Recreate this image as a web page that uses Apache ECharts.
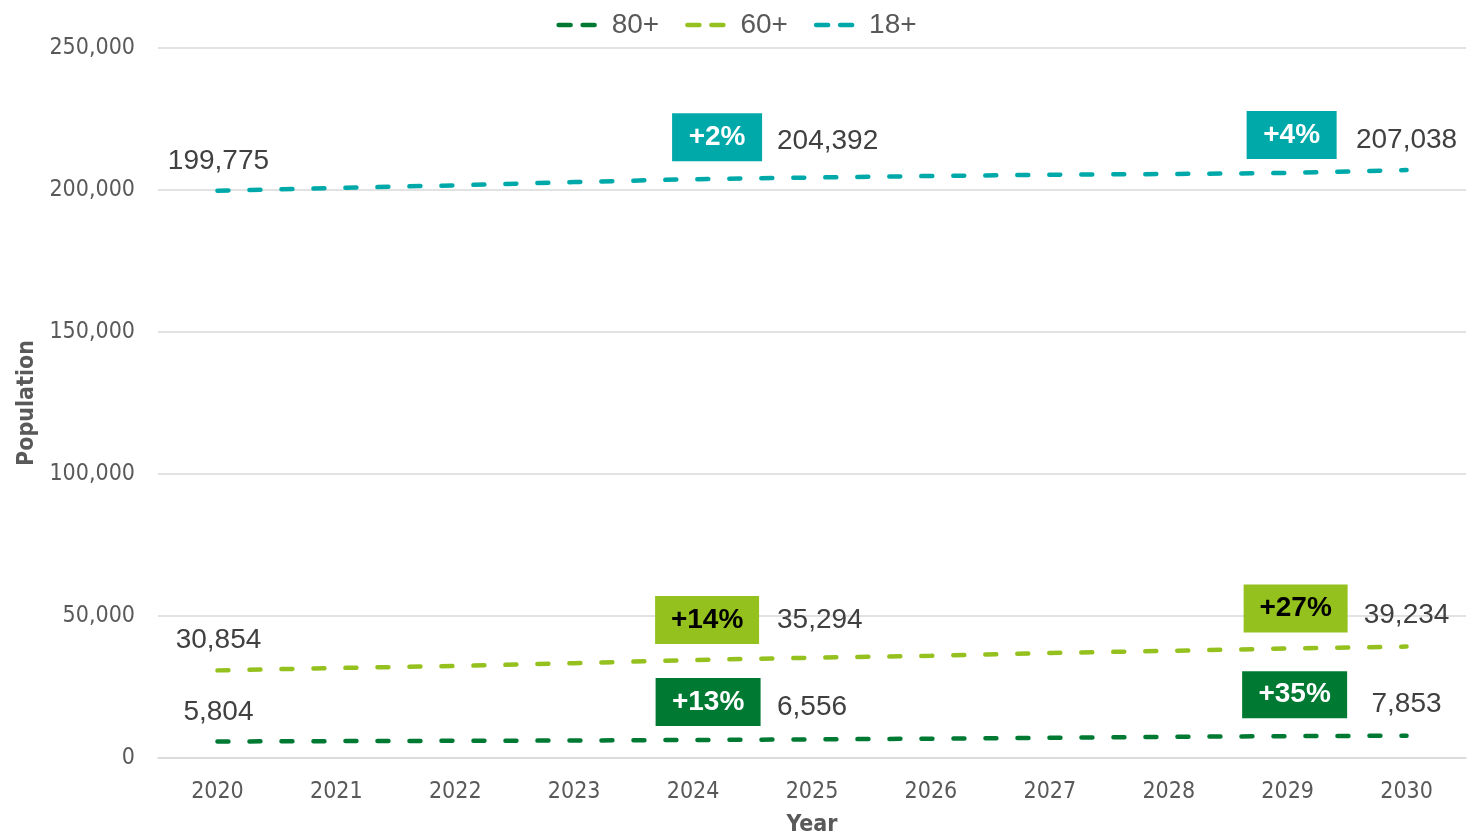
<!DOCTYPE html>
<html>
<head>
<meta charset="utf-8">
<script src="https://cdn.jsdelivr.net/npm/echarts@6/dist/echarts.min.js"></script>
<style>
  html, body { margin: 0; padding: 0; background: #fff; }
  #chart { width: 1473px; height: 836px; }
</style>
</head>
<body>
<div id="chart"></div>
<script>
// population projections
var years = ["2020", "2021", "2022", "2023", "2024", "2025", "2026", "2027", "2028", "2029", "2030"];
var pop80 = [5804, 5950, 6050, 6150, 6350, 6556, 6800, 7100, 7450, 7700, 7853];
var pop60 = [30854, 31690, 32390, 33380, 34510, 35294, 35980, 36970, 37740, 38560, 39234];
var pop18 = [199775, 200700, 201650, 202800, 203800, 204392, 204930, 205390, 205630, 205990, 207038];
var yTicks = [0, 50000, 100000, 150000, 200000, 250000];
// change boxes
var boxYears = ["2024", "2029"];
var box80 = ["+13%", "+35%"];
var box60 = ["+14%", "+27%"];
var box18 = ["+2%", "+4%"];

var labelFont = "'Liberation Sans', Arial, sans-serif";
var axisFont = "'DejaVu Sans Condensed', 'DejaVu Sans', sans-serif";

function fmt(v) {
  return v.toLocaleString("en-US");
}

// which points get a value label and where it sits
var labelPos = [
  { i: 0, align: "center", dx: 1 },
  { i: 5, align: "left", dx: -35 },
  { i: 10, align: "center", dx: 0 }
];

function buildData(values, dy) {
  return values.map(function (v, i) {
    var lp = labelPos.filter(function (p) { return p.i === i; })[0];
    if (!lp) return { value: v };
    return {
      value: v,
      symbol: "circle",
      symbolSize: 1,
      itemStyle: { color: "rgba(0,0,0,0)" },
      label: {
        show: true,
        position: "inside",
        align: lp.align,
        verticalAlign: "middle",
        offset: [lp.dx, dy[labelPos.indexOf(lp)]],
        formatter: fmt(v),
        fontFamily: labelFont,
        fontSize: 28,
        color: "#404040"
      }
    };
  });
}

function buildBoxes(values, texts, bg, fg, sizes, offsets) {
  return texts.map(function (t, k) {
    var y = boxYears[k];
    return {
      coord: [y, values[years.indexOf(y)]],
      symbol: "rect",
      symbolSize: sizes[k],
      symbolOffset: offsets[k],
      itemStyle: { color: bg },
      label: {
        show: true,
        position: "inside",
        formatter: t,
        fontFamily: "'Liberation Sans', Arial, sans-serif",
        fontWeight: "bold",
        fontSize: 28,
        color: fg
      }
    };
  });
}

function makeSeries(name, values, color, labelDy, boxes, boxFg, boxSizes, boxOffsets) {
  return {
    name: name,
    type: "line",
    data: buildData(values, labelDy),
    symbol: "none",
    showSymbol: true,
    color: color,
    lineStyle: { color: color, width: 4.5, type: [11, 21], cap: "round" },
    label: { show: false },
    emphasis: { disabled: true },
    markPoint: {
      silent: true,
      data: buildBoxes(values, boxes, color, boxFg, boxSizes, boxOffsets)
    }
  };
}

var chart = echarts.init(document.getElementById("chart"));
chart.setOption({
  animation: false,
  backgroundColor: "#fff",
  legend: {
    top: 6,
    left: "center",
    itemWidth: 48,
    itemHeight: 20,
    itemGap: 26,
    itemStyle: { opacity: 0 },
    lineStyle: { width: 4.5, type: [12, 12], cap: "round" },
    textStyle: { fontFamily: labelFont, fontSize: 28, color: "#595959" },
    data: ["80+", "60+", "18+"]
  },
  grid: { left: 158, right: 7, top: 48, bottom: 78, outerBoundsMode: "none" },
  xAxis: {
    type: "category",
    data: years,
    boundaryGap: true,
    axisLine: { lineStyle: { color: "#d9d9d9", width: 1.5 } },
    axisTick: { show: false },
    axisLabel: { margin: 23, fontFamily: axisFont, fontSize: 23, color: "#595959" },
    name: "Year",
    nameLocation: "middle",
    nameGap: 56,
    nameTextStyle: { fontFamily: axisFont, fontSize: 23, fontWeight: "bold", color: "#595959" }
  },
  yAxis: {
    type: "value",
    min: yTicks[0],
    max: yTicks[yTicks.length - 1],
    interval: yTicks[1] - yTicks[0],
    axisLine: { show: false },
    axisTick: { show: false },
    splitLine: { lineStyle: { color: "#d9d9d9", width: 1.5 } },
    axisLabel: {
      margin: 23,
      fontFamily: axisFont,
      fontSize: 23,
      color: "#595959",
      formatter: function (v) { return fmt(v); }
    },
    name: "Population",
    nameLocation: "middle",
    nameGap: 118,
    nameTextStyle: { fontFamily: axisFont, fontSize: 23, fontWeight: "bold", color: "#595959" }
  },
  series: [
    makeSeries("80+", pop80, "#007a33", [-29.5, -32, -31], box80, "#ffffff",
      [[105, 48], [105, 47]], [[15, -38], [7, -41.5]]),
    makeSeries("60+", pop60, "#95c11f", [-30, -37, -31], box60, "#000000",
      [[104, 48], [104, 48]], [[14, -40], [8, -40]]),
    makeSeries("18+", pop18, "#00a9a9", [-29, -36, -30], box18, "#ffffff",
      [[90, 48], [90, 48]], [[24, -42], [4, -38]])
  ]
});
window.addEventListener("resize", function () { chart.resize(); });
</script>
</body>
</html>
